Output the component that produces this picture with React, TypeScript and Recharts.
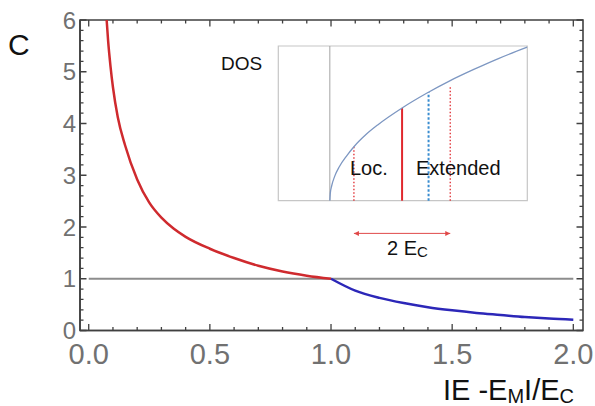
import React from 'react';
import { LineChart, Line, XAxis, YAxis, ReferenceLine, ReferenceArea } from 'recharts';

// C(x) on the localized side (x < 1) and the extended side (x > 1)
const RED_X = [0.074, 0.08, 0.09, 0.1, 0.12, 0.15, 0.2, 0.25, 0.3, 0.35, 0.4, 0.5, 0.6, 0.7, 0.8, 0.9, 1.0];
const RED_C = [6.0, 5.6, 5.1, 4.7, 4.12, 3.58, 2.92, 2.47, 2.18, 1.97, 1.81, 1.58, 1.4, 1.25, 1.14, 1.06, 1.0];
const BLUE_X = [1.0, 1.1, 1.2, 1.3, 1.4, 1.5, 1.6, 1.7, 1.8, 1.9, 2.0];
const BLUE_C = [1.0, 0.77, 0.63, 0.53, 0.45, 0.39, 0.34, 0.3, 0.26, 0.23, 0.21];

// inset: density of states vs energy (units of E_C)
const DOS_E = [0, 0.01, 0.04, 0.1, 0.2, 0.35, 0.5, 0.75, 1.0, 1.5, 2.0, 2.5, 3.0, 3.5, 4.1];
const DOS_V = [0, 0.1, 0.2, 0.32, 0.45, 0.59, 0.71, 0.87, 1.0, 1.22, 1.41, 1.58, 1.73, 1.87, 2.02];
const E_M = 1.5;
const E_F = 2.05;
const E_C = 1;
const LOC_TOP = 0.71;
const EM_TOP = 1.22;
const EF_TOP = 1.43;
const EXT_TOP = 1.5;

const X_MAJOR = [0, 0.5, 1, 1.5, 2];
const Y_MAJOR = [0, 1, 2, 3, 4, 5, 6];
const X_TICKS = Array.from({ length: 21 }, (_, i) => Math.round(i * 10) / 100);
const Y_TICKS = Array.from({ length: 31 }, (_, i) => Math.round(i * 2) / 10);
const INSET_TICKS = [0, E_M, E_F];

const red = RED_X.map((x, i) => ({ x: x, c: RED_C[i] }));
const blue = BLUE_X.map((x, i) => ({ x: x, c: BLUE_C[i] }));
const dos = DOS_E.map((e, i) => ({ e: e, dos: DOS_V[i] }));

const FONT = '"Liberation Sans", Arial, Helvetica, sans-serif';
const FRAME = '#404040';
const TICK_TEXT = '#717171';
const X_DOMAIN = [-0.036, 2.04];
const Y_DOMAIN = [0, 6];

const W = 595;
const H = 406;
const M = { top: 20, right: 12, left: 0, bottom: 0 };
const Y_AXIS_W = 80;
const X_AXIS_H = 75.5;
// size of the plotting box, used to mirror ticks onto the top and right edges
const PLOT_W = W - M.right - Y_AXIS_W;
const PLOT_H = H - M.top - X_AXIS_H;

const isMajor = (v: number, majors: number[]) => majors.some((m) => Math.abs(m - v) < 1e-6);

const BottomTick = (props: any) => {
  const { x, y, payload } = props;
  const major = isMajor(payload.value, X_MAJOR);
  const len = major ? 6.5 : 3.5;
  const top = y - PLOT_H;
  return (
    <g>
      <path d={`M${x},${y}V${y - len}M${x},${top}V${top + len}`} stroke={FRAME} strokeWidth={1.3} fill="none" />
      {major && (
        <text x={x} y={y + 33} textAnchor="middle" fontSize={29} fill={TICK_TEXT} fontFamily={FONT}>
          {payload.value.toFixed(1)}
        </text>
      )}
    </g>
  );
};

const LeftTick = (props: any) => {
  const { x, y, payload } = props;
  const major = isMajor(payload.value, Y_MAJOR);
  const len = major ? 6.5 : 3.5;
  const right = x + PLOT_W;
  return (
    <g>
      <path d={`M${x},${y}H${x + len}M${right},${y}H${right - len}`} stroke={FRAME} strokeWidth={1.3} fill="none" />
      {major && (
        <text x={x - 4} y={y + 8.5} textAnchor="end" fontSize={24} fill={TICK_TEXT} fontFamily={FONT}>
          {payload.value}
        </text>
      )}
    </g>
  );
};

const InsetTick = (props: any) => {
  const { x, y, payload } = props;
  const v = payload.value;
  if (v === 0) {
    return (
      <text x={x} y={y + 23} textAnchor="middle" fontSize={19} fontFamily={FONT} fill="#111">
        0
      </text>
    );
  }
  const sub = v === E_M ? 'M' : 'F';
  return (
    <text x={x + 2} y={y + 23} textAnchor="middle" fontSize={19} fontFamily={FONT} fill="#111">
      E<tspan fontSize={14} dy={2}>{sub}</tspan>
    </text>
  );
};

const Arrow = (props: any) => {
  const { x1, y1, x2, y2 } = props;
  const c = '#e04848';
  return (
    <g>
      <line x1={x1} y1={y1} x2={x2} y2={y2} stroke={c} strokeWidth={1} />
      <path d={`M${x1},${y1} l5,-2.5 l0,5 z`} fill={c} />
      <path d={`M${x2},${y2} l-5,-2.5 l0,5 z`} fill={c} />
    </g>
  );
};

export default function App() {
  return (
    <div style={{ position: 'absolute', left: 0, top: 0, width: W, height: H, background: '#fff' }}>
      <LineChart width={W} height={H} margin={M}>
        <XAxis
          dataKey="x"
          type="number"
          domain={X_DOMAIN}
          allowDataOverflow
          ticks={X_TICKS}
          interval={0}
          tickSize={0}
          tickMargin={0}
          height={X_AXIS_H}
          axisLine={{ stroke: FRAME, strokeWidth: 1.6 }}
          tick={BottomTick}
        />
        <YAxis
          type="number"
          domain={Y_DOMAIN}
          allowDataOverflow
          ticks={Y_TICKS}
          interval={0}
          tickSize={0}
          tickMargin={0}
          width={Y_AXIS_W}
          axisLine={{ stroke: FRAME, strokeWidth: 1.6 }}
          tick={LeftTick}
        />
        {/* frame: top and right edges */}
        <ReferenceArea
          x1={X_DOMAIN[0]}
          x2={X_DOMAIN[1]}
          y1={Y_DOMAIN[0]}
          y2={Y_DOMAIN[1]}
          fill="none"
          stroke={FRAME}
          strokeWidth={1.6}
        />
        <ReferenceLine
          segment={[{ x: 0, y: 1 }, { x: 2, y: 1 }]}
          stroke="#8d8d8d"
          strokeWidth={2}
        />
        <Line data={red} dataKey="c" type="monotone" stroke="#cf2a2e" strokeWidth={2.5} dot={false} isAnimationActive={false} />
        <Line data={blue} dataKey="c" type="monotone" stroke="#2c27b8" strokeWidth={2.5} dot={false} isAnimationActive={false} />
      </LineChart>

      <div style={{ position: 'absolute', left: 210, top: 30 }}>
        <LineChart width={340} height={240} margin={{ top: 16, right: 22.7, left: 68.3, bottom: 69.3 }}>
          <XAxis
            dataKey="e"
            type="number"
            domain={[-1.07, 4.1]}
            allowDataOverflow
            ticks={INSET_TICKS}
            interval={0}
            tickSize={0}
            tickMargin={0}
            height={0}
            axisLine={{ stroke: '#6b6b6b', strokeWidth: 1.6 }}
            tick={InsetTick}
          />
          <YAxis hide type="number" domain={[0, 2.035]} allowDataOverflow />
          <ReferenceArea x1={-1.07} x2={4.1} y1={0} y2={2.035} fill="none" stroke="#c6c6c6" strokeWidth={1.2} />
          <ReferenceLine x={0} stroke="#a3a3a3" strokeWidth={1} />
          <ReferenceLine segment={[{ x: E_M - E_C, y: 0 }, { x: E_M - E_C, y: LOC_TOP }]} stroke="#e0282d" strokeWidth={1.3} strokeDasharray="1.5 2" />
          <ReferenceLine segment={[{ x: E_M + E_C, y: 0 }, { x: E_M + E_C, y: EXT_TOP }]} stroke="#e0282d" strokeWidth={1.3} strokeDasharray="1.5 2" />
          <ReferenceLine segment={[{ x: E_M, y: 0 }, { x: E_M, y: EM_TOP }]} stroke="#e0282d" strokeWidth={2} />
          <ReferenceLine segment={[{ x: E_F, y: 0 }, { x: E_F, y: EF_TOP }]} stroke="#3a8dd0" strokeWidth={2} strokeDasharray="2.5 2" />
          <ReferenceLine
            segment={[{ x: E_M - E_C, y: -0.43 }, { x: E_M + E_C, y: -0.43 }]}
            ifOverflow="visible"
            shape={Arrow}
          />
          <Line data={dos} dataKey="dos" type="monotone" stroke="#7d97c2" strokeWidth={1.3} dot={false} isAnimationActive={false} />
        </LineChart>
      </div>

      <svg width={W} height={H} style={{ position: 'absolute', left: 0, top: 0, pointerEvents: 'none' }} fontFamily={FONT}>
        <text x={8} y={55} fontSize={30} fill="#111">C</text>
        <text x={574} y={400} textAnchor="end" fontSize={29} fill="#111">
          IE -E<tspan fontSize={20} dy={3}>M</tspan>
          <tspan dy={-3}>I/E</tspan>
          <tspan fontSize={20} dy={3}>C</tspan>
        </text>
        <text x={221} y={69.5} fontSize={19} fill="#111">DOS</text>
        <text x={350} y={175} fontSize={20} fill="#111">Loc.</text>
        <text x={416} y={175} fontSize={20} fill="#111">Extended</text>
        <text x={387} y={255} fontSize={20} fill="#111">
          2 E<tspan fontSize={15} dy={2}>C</tspan>
        </text>
      </svg>
    </div>
  );
}
